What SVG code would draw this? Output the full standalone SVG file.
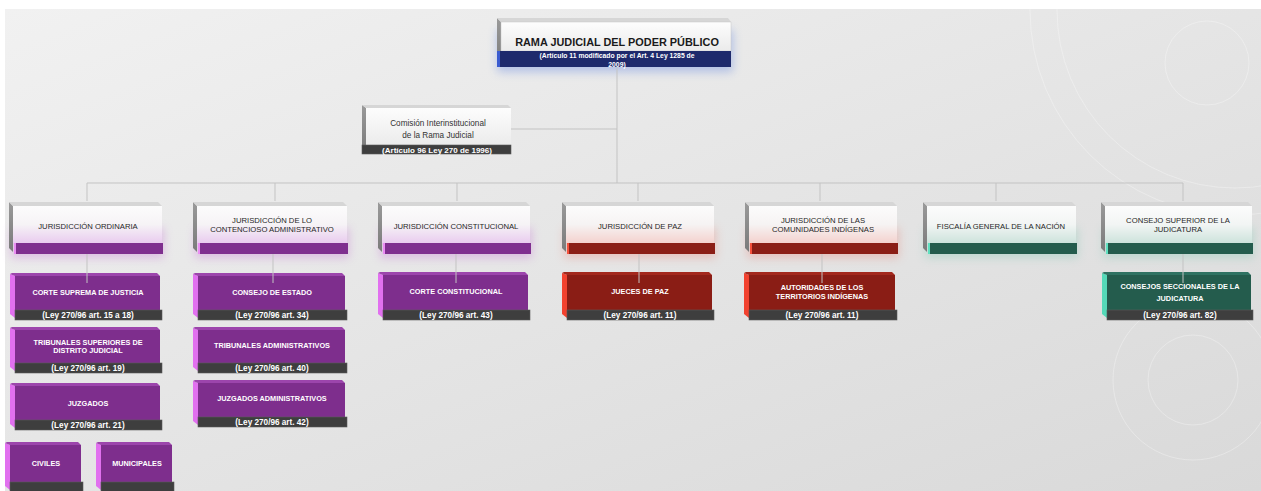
<svg xmlns="http://www.w3.org/2000/svg" width="1261" height="491" viewBox="0 0 1261 491">
<defs>
<linearGradient id="bg" x1="0" y1="0" x2="1" y2="1">
<stop offset="0" stop-color="#f1f1f1"/><stop offset="1" stop-color="#d9d9d9"/>
</linearGradient>
<linearGradient id="fW" x1="0" y1="0" x2="0" y2="1">
<stop offset="0" stop-color="#fdfdfd"/><stop offset="1" stop-color="#ebebeb"/>
</linearGradient>
<linearGradient id="fP" x1="0" y1="0" x2="0" y2="1">
<stop offset="0" stop-color="#fcfcfc"/><stop offset="0.5" stop-color="#f6f3f6"/><stop offset="1" stop-color="#e9ccef"/>
</linearGradient>
<linearGradient id="fR" x1="0" y1="0" x2="0" y2="1">
<stop offset="0" stop-color="#fcfcfc"/><stop offset="0.5" stop-color="#f6f3f3"/><stop offset="1" stop-color="#f4d2ce"/>
</linearGradient>
<linearGradient id="fG" x1="0" y1="0" x2="0" y2="1">
<stop offset="0" stop-color="#fcfcfc"/><stop offset="0.5" stop-color="#f2f5f4"/><stop offset="1" stop-color="#cde3dc"/>
</linearGradient>
<linearGradient id="side" x1="0" y1="0" x2="0" y2="1">
<stop offset="0" stop-color="#9a9a9a"/><stop offset="1" stop-color="#7a7a7a"/>
</linearGradient>
<filter id="blur" x="-20%" y="-60%" width="140%" height="220%"><feGaussianBlur stdDeviation="5"/></filter>
<style>
.conn{stroke:#c3c3c3;stroke-width:1;fill:none}
.deco{stroke:#ffffff;stroke-opacity:.3;stroke-width:1;fill:none}
.l2side{fill:url(#side)}
.l2top{fill:#d6d6d6}
.l2t{font-family:"Liberation Sans",Arial,sans-serif;font-size:7.7px;fill:#262626;text-anchor:middle}
.l3t{font-family:"Liberation Sans",Arial,sans-serif;font-size:7.3px;font-weight:bold;fill:#ffffff;text-anchor:middle}
.bt{font-family:"Liberation Sans",Arial,sans-serif;font-size:8.2px;font-weight:bold;fill:#ffffff;text-anchor:middle}
.dbar{fill:#3e3e3e;stroke:#5a5a5a;stroke-width:.6}
.pface{fill:#7e2e8d}.ptop{fill:#9c45ac}.pside{fill:#e170ef}
.rface{fill:#8a1d15}.rtop{fill:#a3281d}.rside{fill:#f2422f}
.gface{fill:#245c4d}.gtop{fill:#2f7262}.gside{fill:#55d9b8}
.pglow{fill:#c779d6;opacity:.4}
.rglow{fill:#e8897f;opacity:.4}
.gglow{fill:#86c9b6;opacity:.4}
</style>
</defs>
<rect x="0" y="0" width="1261" height="491" fill="#ffffff"/>
<rect x="5" y="9" width="1256" height="482" fill="url(#bg)"/>
<g id="decoration">
<circle class="deco" cx="1235" cy="10" r="205"/>
<circle class="deco" cx="1235" cy="10" r="178" stroke-opacity=".2"/>
<circle class="deco" cx="1207" cy="63" r="42"/>
<circle class="deco" cx="1193" cy="380" r="45"/>
<circle class="deco" cx="1193" cy="380" r="80" stroke-opacity=".18"/>
</g>

<g id="n-rama">
<rect x="497" y="30" width="236" height="42" fill="#6f8fe0" opacity=".45" filter="url(#blur)"/>
<polygon class="l2side" points="497,18 501,22 501,64 497,67"/>
<polygon class="l2top" points="497,18 728,18 731,22 501,22"/>
<rect x="501" y="22" width="230" height="29" fill="url(#fW)" stroke="#c8c8c8" stroke-width=".5"/>
<rect x="497" y="51" width="234" height="16" fill="#1e2a6c"/>
<rect x="497" y="51" width="3" height="16" fill="#3a5bd0"/>
<text x="617" y="46" font-family="Liberation Sans,Arial,sans-serif" font-size="10.9" font-weight="bold" fill="#1a1a1a" text-anchor="middle">RAMA JUDICIAL DEL PODER PÚBLICO</text>
<text x="617" y="58" font-family="Liberation Sans,Arial,sans-serif" font-size="6.8" font-weight="bold" fill="#ffffff" text-anchor="middle">(Artículo 11 modificado por el Art. 4 Ley 1285 de</text>
<text x="617" y="66.5" font-family="Liberation Sans,Arial,sans-serif" font-size="6.8" font-weight="bold" fill="#ffffff" text-anchor="middle">2009)</text>
</g>

<g id="n-comision">
<polygon class="l2side" points="362,105 366,108 366,152 362,149"/>
<polygon class="l2top" points="362,105 508,105 511,108 366,108"/>
<rect x="366" y="108" width="145" height="37" fill="url(#fW)"/>
<rect class="dbar" x="362" y="145" width="149" height="9"/>
<text x="438" y="126" font-family="Liberation Sans,Arial,sans-serif" font-size="8.2" fill="#333333" text-anchor="middle">Comisión Interinstitucional</text>
<text x="438" y="138" font-family="Liberation Sans,Arial,sans-serif" font-size="8.2" fill="#333333" text-anchor="middle">de la Rama Judicial</text>
<text x="437" y="152.5" font-family="Liberation Sans,Arial,sans-serif" font-size="8" font-weight="bold" fill="#ffffff" text-anchor="middle">(Artículo 96 Ley 270 de 1996)</text>
</g>

<!-- Level 2 -->
<g id="n-ordinaria">
<rect class="pglow" x="11" y="228" width="153" height="30" filter="url(#blur)"/>
<polygon class="l2side" points="9,202 13,206 13,252 9,248"/>
<polygon class="l2top" points="9,202 158,202 162,206 13,206"/>
<rect x="13" y="206" width="149" height="37" fill="url(#fP)"/>
<rect x="14" y="243" width="149" height="11" fill="#7f2f8f"/>
<rect x="14" y="243" width="2" height="11" fill="#ea8cf3"/>
<text class="l2t" x="88" y="229">JURISDICCIÓN ORDINARIA</text>
</g>
<g id="n-contencioso">
<rect class="pglow" x="195" y="228" width="154" height="30" filter="url(#blur)"/>
<polygon class="l2side" points="193,202 197,206 197,252 193,248"/>
<polygon class="l2top" points="193,202 343,202 347,206 197,206"/>
<rect x="197" y="206" width="150" height="37" fill="url(#fP)"/>
<rect x="198" y="243" width="150" height="11" fill="#7f2f8f"/>
<rect x="198" y="243" width="2" height="11" fill="#ea8cf3"/>
<text class="l2t" x="272" y="223">JURISDICCIÓN DE LO</text>
<text class="l2t" x="272" y="232">CONTENCIOSO ADMINISTRATIVO</text>
</g>
<g id="n-constitucional">
<rect class="pglow" x="380" y="228" width="152" height="30" filter="url(#blur)"/>
<polygon class="l2side" points="378,202 382,206 382,252 378,248"/>
<polygon class="l2top" points="378,202 526,202 530,206 382,206"/>
<rect x="382" y="206" width="148" height="37" fill="url(#fP)"/>
<rect x="383" y="243" width="148" height="11" fill="#7f2f8f"/>
<rect x="383" y="243" width="2" height="11" fill="#ea8cf3"/>
<text class="l2t" x="456" y="229">JURISDICCIÓN CONSTITUCIONAL</text>
</g>
<g id="n-paz">
<rect class="rglow" x="564" y="228" width="152" height="30" filter="url(#blur)"/>
<polygon class="l2side" points="562,202 566,206 566,252 562,248"/>
<polygon class="l2top" points="562,202 710,202 714,206 566,206"/>
<rect x="566" y="206" width="148" height="37" fill="url(#fR)"/>
<rect x="567" y="243" width="148" height="11" fill="#8b1e16"/>
<rect x="567" y="243" width="2" height="11" fill="#f4503c"/>
<text class="l2t" x="640" y="229">JURISDICCIÓN DE PAZ</text>
</g>
<g id="n-indigenas">
<rect class="rglow" x="747" y="228" width="152" height="30" filter="url(#blur)"/>
<polygon class="l2side" points="745,202 749,206 749,252 745,248"/>
<polygon class="l2top" points="745,202 893,202 897,206 749,206"/>
<rect x="749" y="206" width="148" height="37" fill="url(#fR)"/>
<rect x="750" y="243" width="148" height="11" fill="#8b1e16"/>
<rect x="750" y="243" width="2" height="11" fill="#f4503c"/>
<text class="l2t" x="823" y="223">JURISDICCIÓN DE LAS</text>
<text class="l2t" x="823" y="232">COMUNIDADES INDÍGENAS</text>
</g>
<g id="n-fiscalia">
<rect class="gglow" x="925" y="228" width="153" height="30" filter="url(#blur)"/>
<polygon class="l2side" points="923,202 927,206 927,252 923,248"/>
<polygon class="l2top" points="923,202 1072,202 1076,206 927,206"/>
<rect x="927" y="206" width="149" height="37" fill="url(#fG)"/>
<rect x="928" y="243" width="149" height="11" fill="#245c4d"/>
<rect x="928" y="243" width="2" height="11" fill="#5ee0bf"/>
<text class="l2t" x="1001" y="229">FISCALÍA GENERAL DE LA NACIÓN</text>
</g>
<g id="n-consejo-superior">
<rect class="gglow" x="1103" y="228" width="151" height="30" filter="url(#blur)"/>
<polygon class="l2side" points="1101,202 1105,206 1105,252 1101,248"/>
<polygon class="l2top" points="1101,202 1248,202 1252,206 1105,206"/>
<rect x="1105" y="206" width="147" height="37" fill="url(#fG)"/>
<rect x="1106" y="243" width="147" height="11" fill="#245c4d"/>
<rect x="1106" y="243" width="2" height="11" fill="#5ee0bf"/>
<text class="l2t" x="1178" y="223">CONSEJO SUPERIOR DE LA</text>
<text class="l2t" x="1178" y="232">JUDICATURA</text>
</g>

<!-- Level 3 -->
<g id="n-corte-suprema">
<polygon class="pside" points="10,274 15,276 15,318 10,314"/>
<polygon class="ptop" points="10,274 12,273 157,273 160,276 15,276"/>
<rect class="pface" x="15" y="276" width="145" height="34"/>
<rect class="dbar" x="15" y="310" width="147" height="10"/>
<text class="l3t" x="88" y="295">CORTE SUPREMA DE JUSTICIA</text>
<text class="bt" x="88" y="318">(Ley 270/96 art. 15 a 18)</text>
</g>
<g id="n-tribunales-superiores">
<polygon class="pside" points="10,328 15,330 15,371 10,367"/>
<polygon class="ptop" points="10,328 12,327 157,327 160,330 15,330"/>
<rect class="pface" x="15" y="330" width="145" height="33"/>
<rect class="dbar" x="15" y="363" width="147" height="10"/>
<text class="l3t" x="88" y="345">TRIBUNALES SUPERIORES DE</text>
<text class="l3t" x="88" y="353">DISTRITO JUDICIAL</text>
<text class="bt" x="88" y="371">(Ley 270/96 art. 19)</text>
</g>
<g id="n-juzgados">
<polygon class="pside" points="10,384 15,386 15,428 10,424"/>
<polygon class="ptop" points="10,384 12,383 157,383 160,386 15,386"/>
<rect class="pface" x="15" y="386" width="145" height="34"/>
<rect class="dbar" x="15" y="420" width="147" height="10"/>
<text class="l3t" x="88" y="406">JUZGADOS</text>
<text class="bt" x="88" y="428">(Ley 270/96 art. 21)</text>
</g>
<g id="n-civiles">
<polygon class="pside" points="5,443 10,445 10,490 5,486"/>
<polygon class="ptop" points="5,443 7,442 78,442 81,445 10,445"/>
<rect class="pface" x="10" y="445" width="71" height="37"/>
<rect class="dbar" x="10" y="482" width="73" height="10"/>
<text class="l3t" x="46" y="466">CIVILES</text>
</g>
<g id="n-municipales">
<polygon class="pside" points="96,443 101,445 101,490 96,486"/>
<polygon class="ptop" points="96,443 98,442 169,442 172,445 101,445"/>
<rect class="pface" x="101" y="445" width="71" height="37"/>
<rect class="dbar" x="101" y="482" width="73" height="10"/>
<text class="l3t" x="137" y="466">MUNICIPALES</text>
</g>
<g id="n-consejo-estado">
<polygon class="pside" points="193,274 198,276 198,318 193,314"/>
<polygon class="ptop" points="193,274 195,273 342,273 345,276 198,276"/>
<rect class="pface" x="198" y="276" width="147" height="34"/>
<rect class="dbar" x="198" y="310" width="149" height="10"/>
<text class="l3t" x="272" y="295">CONSEJO DE ESTADO</text>
<text class="bt" x="272" y="318">(Ley 270/96 art. 34)</text>
</g>
<g id="n-tribunales-adm">
<polygon class="pside" points="193,328 198,330 198,371 193,367"/>
<polygon class="ptop" points="193,328 195,327 342,327 345,330 198,330"/>
<rect class="pface" x="198" y="330" width="147" height="33"/>
<rect class="dbar" x="198" y="363" width="149" height="10"/>
<text class="l3t" x="272" y="348">TRIBUNALES ADMINISTRATIVOS</text>
<text class="bt" x="272" y="371">(Ley 270/96 art. 40)</text>
</g>
<g id="n-juzgados-adm">
<polygon class="pside" points="193,381 198,383 198,425 193,421"/>
<polygon class="ptop" points="193,381 195,380 342,380 345,383 198,383"/>
<rect class="pface" x="198" y="383" width="147" height="34"/>
<rect class="dbar" x="198" y="417" width="149" height="10"/>
<text class="l3t" x="272" y="401">JUZGADOS ADMINISTRATIVOS</text>
<text class="bt" x="272" y="425">(Ley 270/96 art. 42)</text>
</g>
<g id="n-corte-constitucional">
<polygon class="pside" points="378,273 383,275 383,318 378,314"/>
<polygon class="ptop" points="378,273 380,272 525,272 528,275 383,275"/>
<rect class="pface" x="383" y="275" width="145" height="35"/>
<rect class="dbar" x="383" y="310" width="147" height="10"/>
<text class="l3t" x="456" y="294">CORTE CONSTITUCIONAL</text>
<text class="bt" x="456" y="318">(Ley 270/96 art. 43)</text>
</g>
<g id="n-jueces-paz">
<polygon class="rside" points="562,273 567,275 567,318 562,314"/>
<polygon class="rtop" points="562,273 564,272 709,272 712,275 567,275"/>
<rect class="rface" x="567" y="275" width="145" height="35"/>
<rect class="dbar" x="567" y="310" width="147" height="10"/>
<text class="l3t" x="640" y="294">JUECES DE PAZ</text>
<text class="bt" x="640" y="318">(Ley 270/96 art. 11)</text>
</g>
<g id="n-autoridades">
<polygon class="rside" points="744,273 749,275 749,318 744,314"/>
<polygon class="rtop" points="744,273 746,272 892,272 895,275 749,275"/>
<rect class="rface" x="749" y="275" width="146" height="35"/>
<rect class="dbar" x="749" y="310" width="148" height="10"/>
<text class="l3t" x="822" y="290">AUTORIDADES DE LOS</text>
<text class="l3t" x="822" y="299">TERRITORIOS INDÍGENAS</text>
<text class="bt" x="822" y="318">(Ley 270/96 art. 11)</text>
</g>
<g id="n-consejos-seccionales">
<polygon class="gside" points="1102,273 1107,275 1107,318 1102,314"/>
<polygon class="gtop" points="1102,273 1104,272 1248,272 1251,275 1107,275"/>
<rect class="gface" x="1107" y="275" width="144" height="35"/>
<rect class="dbar" x="1107" y="310" width="146" height="10"/>
<text class="l3t" x="1180" y="289">CONSEJOS SECCIONALES DE LA</text>
<text class="l3t" x="1180" y="301">JUDICATURA</text>
<text class="bt" x="1180" y="318">(Ley 270/96 art. 82)</text>
</g>

<g id="connectors">
<path class="conn" d="M617 67 V183"/>
<path class="conn" d="M511 129 H617"/>
<path class="conn" d="M87 183 H1183"/>
<path class="conn" d="M87 183 V201 M275 183 V201 M457 183 V201 M638 183 V201 M820 183 V201 M996 183 V201 M1183 183 V201"/>
<path class="conn" d="M87 254 V283 M273 254 V283 M456 254 V283 M639 254 V283 M822 254 V283 M1183 254 V283"/>
</g>
</svg>
